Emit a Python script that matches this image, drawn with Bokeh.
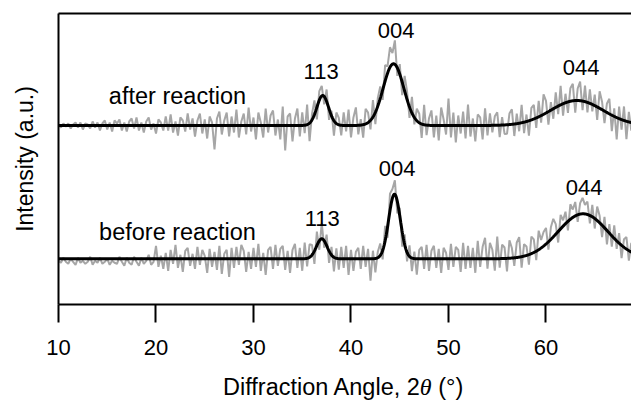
import numpy as np
from bokeh.plotting import figure
from bokeh.layouts import column
from bokeh.models import Range1d, FixedTicker, LinearAxis, ColumnDataSource, Div
from bokeh.core.properties import value
from bokeh.embed import file_html
from bokeh.resources import INLINE

# ---------------- data ----------------
x_ticks = [10, 20, 30, 40, 50, 60]

# fitted Gaussian peaks (2theta centre, height, sigma) for each pattern
after_centers = [37.1, 44.36, 63.17]
after_heights = [30.0, 61.7, 25.0]
after_sigmas = [0.60, 1.06, 2.70]
after_level = 179.0

before_centers = [37.0, 44.46, 63.8]
before_heights = [20.0, 64.6, 45.0]
before_sigmas = [0.55, 0.60, 2.55]
before_level = 45.7

peak_names = ["113", "004", "044"]

# measured patterns: deviation of the raw counts from the fit, every 0.25 deg from 10 to 69
after_resid = [
    1, -2, 2, -1,   2, -3, 1, 3,   -2, 3, -4, 2,   1, -3, 4, -2,
    3, -5, 2, 5,   -4, 3, -6, 5,   2, 6, -5, 3,   -6, 4, 7, -3,
    8, -5, 3, -7,   4, 8, -4, 2,   -8, 6, 3, -5,   9, -5, 11, -7,
    4, -10, 8, 5,   -6, 12, -4, 7,   -11, 5, 12, -8,   6, -13, 9, 3,
    -24, 7, 14, -9,   5, 13, -11, 9,   -7, 16, -12, 4,   12, -9, 18, -6,
    8, -14, 13, 3,   -12, 17, -7, 10,   15, -10, 6, -14,   19, -25, 9, 12,
    -16, 7, 17, -11,   13, -8, 20, -18,   6, 14, -12, 9,   10, -8, 12, -11,
    5, -15, 11, 7,   -10, 13, -6, 16,   -12, 8, 18, -9,   6, -13, 15, 10,
    -9, 17, -12, 8,   12, -10, 16, 7,   20, 11, 24, -8,   10, -13, 15, 8,
    -11, 16, -7, 12,   9, -14, 20, -10,   7, 15, -12, 10,   -15, 18, 6, -9,
    27, -12, 13, -17,   10, -8, 14, -13,   21, -11, 7, -16,   11, 8, -14, 17,
    -10, 12, -7, 9,   13, -12, 8, -9,   -9, 11, 15, -12,   10, -8, 18, -11,
    7, -15, 12, 14,   -10, 16, -7, 20,   12, -13, 8, -10,   15, -8, 19, -12,
    9, -11, 13, 17,   -12, 12, 19, -9,   16, -10, 14, -7,   11, -13, 17, 8,
    -12, 9, 15, -16,   8, -22, 12, -10,   14, -18, 10, -8,   12,
]
before_resid = [
    -2, -4, 1, -3,   -5, 0, -3, -6,   1, -4, -2, -5,   -3, 2, -6, -2,
    -4, 1, -5, -3,   0, -6, -2, -4,   -5, 2, -3, -7,   1, -4, -6, 2,
    -3, -7, 1, -5,   -2, 4, -6, -3,   13, -8, 3, -10,   6, -12, 9, -5,
    14, -9, 4, -13,   8, 11, -7, 5,   -10, 12, -6, 9,   3, -14, 10, -8,
    7, -11, 13, -15,   5, 9, -18, 11,   -9, 12, -6, 14,   8, -13, 7, -10,
    11, -8, 15, -12,   6, -16, 9, 12,   -10, 14, -7, 10,   13, -11, 8, -14,
    9, 15, -9, 11,   -12, 16, -8, 13,   10, -13, 14, -9,   16, -7, 11, -12,
    8, -14, 10, -11,   12, -9, 13, -16,   9, -12, 7, 11,   -10, 13, -8, 10,
    -22, 8, -14, 6,   12, -9, 15, -11,   17, 9, 14, -12,   8, -15, 10, -9,
    11, -13, 7, -16,   9, 12, -10, 14,   -12, 8, 13, -9,   10, -14, 11, 6,
    -11, 15, -8, 12,   9, -13, 16, -10,   13, -9, 11, -14,   18, -8, 12, 21,
    -10, 16, 9, -12,   22, -9, 14, 11,   -13, 18, 10, -8,   15, 20, -11, 12,
    9, -10, 17, 13,   -9, 19, 8, 14,   16, -8, 12, 18,   10, -11, 14, 6,
    12, -9, 15, 8,   14, -7, 11, 16,   9, 13, -8, 12,   -10, 14, 7, -12,
    11, -14, 9, -11,   13, -8, 10, -13,   8, 12, -10, 9,   -8,
]

# ---------------- helpers ----------------
def fit_curve(x, level, centers, heights, sigmas):
    y = np.full_like(x, level, dtype=float)
    for c, h, s in zip(centers, heights, sigmas):
        y += h * np.exp(-0.5 * ((x - c) / s) ** 2)
    return y

x_meas = np.arange(len(after_resid)) * 0.25 + 10.0
x_fit = np.linspace(10, 69, 1500)

after_fit = fit_curve(x_fit, after_level, after_centers, after_heights, after_sigmas)
before_fit = fit_curve(x_fit, before_level, before_centers, before_heights, before_sigmas)
after_meas = fit_curve(x_meas, after_level, after_centers, after_heights, after_sigmas) + np.array(after_resid, float)
before_meas = fit_curve(x_meas, before_level, before_centers, before_heights, before_sigmas) + np.array(before_resid, float)

FONT = "Liberation Sans"
GRAY = "#a6a6a6"

p = figure(width=631, height=370, x_range=Range1d(10, 68.77), y_range=Range1d(0, 291),
           output_backend="svg", toolbar_location=None,
           min_border_left=58, min_border_right=0, min_border_top=13, min_border_bottom=66)
p.outline_line_color = None
p.xgrid.visible = False
p.ygrid.visible = False

# measured data
p.line(x_meas, after_meas, line_color=GRAY, line_width=2)
p.line(x_meas, before_meas, line_color=GRAY, line_width=2)
# fits
p.line(x_fit, after_fit, line_color="black", line_width=3)
p.line(x_fit, before_fit, line_color="black", line_width=3)

# bottom axis
xa = p.xaxis[0]
xa.ticker = FixedTicker(ticks=x_ticks)
xa.minor_tick_line_color = None
xa.major_tick_in = 0
xa.major_tick_out = 18
xa.major_tick_line_width = 2
xa.axis_line_width = 2
xa.major_label_text_font = FONT
xa.major_label_text_font_size = "22px"
xa.major_label_text_color = "black"
xa.major_label_standoff = 17

# left axis
ya = p.yaxis[0]
ya.ticker = FixedTicker(ticks=[])
ya.minor_tick_line_color = None
ya.major_tick_in = 0
ya.major_tick_out = 0
ya.axis_line_width = 2
ya.axis_label = "Intensity (a.u.)"
ya.axis_label_text_font = FONT
ya.axis_label_text_font_size = "23px"
ya.axis_label_text_font_style = "normal"
ya.axis_label_text_color = "black"
ya.axis_label_standoff = 21

# top frame line
top = LinearAxis(ticker=FixedTicker(ticks=[]), major_tick_in=0, major_tick_out=0,
                 minor_tick_line_color=None, axis_line_width=2, major_label_standoff=0)
p.add_layout(top, "above")

# annotations inside the frame
reac = ColumnDataSource(dict(x=[22.2, 22.2], y=[209, 72.3], t=["after reaction", "before reaction"]))
p.text(x="x", y="y", text="t", source=reac, text_font=value(FONT), text_font_size="23.5px",
       text_align="center", text_baseline="middle", text_color="black")
peaks = ColumnDataSource(dict(
    x=[36.94, 44.63, 63.6, 37.05, 44.74, 63.9],
    y=[233, 274, 237.3, 85.7, 135.7, 117.3],
    t=peak_names + peak_names,
))
p.text(x="x", y="y", text="t", source=peaks, text_font=value(FONT), text_font_size="22px",
       text_align="center", text_baseline="middle", text_color="black")

# x axis title (with italic theta)
title = Div(
    text=('<div style="margin:0;padding:4px 0 0 223px;text-align:left;white-space:nowrap;'
          'font-family:\'Liberation Sans\';font-size:23.5px;line-height:26px;color:black">'
          'Diffraction Angle, 2<span style="font-family:\'Liberation Serif\';font-style:italic;'
          'font-size:24px">\u03b8</span> (\u00b0)</div>'),
    width=631, height=31, margin=0,
)

layout = column(p, title, spacing=0)
open("out.html", "w").write(file_html(layout, INLINE))
